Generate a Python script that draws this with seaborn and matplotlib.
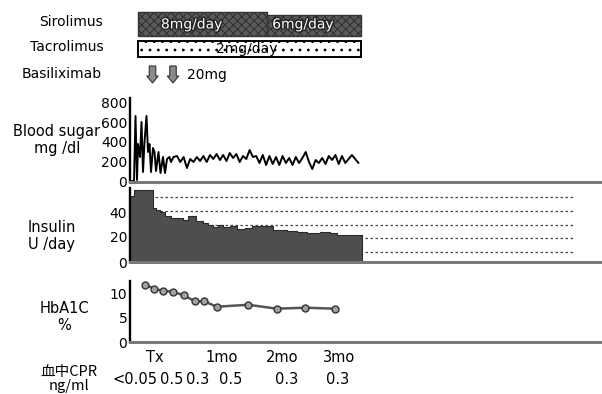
import numpy as np
import pandas as pd
import matplotlib
matplotlib.use("Agg")
import matplotlib.pyplot as plt
import seaborn as sns
from matplotlib import transforms, patches, patheffects

# ---------------- data ----------------
# x unit: days relative to transplant (Tx)
bs_early_day = [-9.2, -7.6, -7.0, -6.4, -6.0, -5.2, -4.6, -4.0, -3.4, -2.6, -2.0, -1.4, -0.8, 0.0,
                0.6, 1.2, 2.2, 3.0, 4.0, 4.8, 5.6, 6.6, 7.2, 8.2]
bs_early = [10, 10, 660, 20, 380, 250, 600, 100, 400, 660, 300, 380, 100, 340,
            300, 110, 300, 90, 250, 90, 230, 250, 200, 250]
bs_late_start, bs_late_end = 9.6, 82.2
bs_late = [260, 200, 250, 140, 230, 200, 250, 210, 260, 200, 270, 230, 280, 220, 270, 210,
           290, 240, 280, 200, 260, 230, 320, 250, 260, 190, 270, 170, 260, 180, 250, 170,
           260, 190, 240, 170, 250, 190, 240, 300, 200, 130, 220, 190, 240, 180, 260, 220,
           270, 180, 260, 190, 230, 270, 230, 190]

ins_start = [-9.2, -7.6, 0.0, 1.2, 2.8, 4.8, 7.2, 10.0, 12.0, 14.0, 17.2, 20.0, 22.0, 24.0,
             26.0, 28.0, 30.8, 33.6, 36.8, 39.6, 48.0, 53.6, 57.6, 61.6, 66.8, 70.8, 73.6]
ins_end = 83.6
ins_val = [53, 57.5, 43, 42, 40, 37, 35.5, 35, 34, 36.5, 33, 31, 29.5, 28, 30, 28, 29,
           26.5, 27.5, 29, 26, 24.5, 24, 23.5, 24, 23, 22]
ins_grid = [52, 41, 30, 19, 8]

a1c_day = [-3.2, 0.5, 3.9, 7.9, 12.4, 16.8, 20.5, 25.5, 38.1, 49.5, 60.8, 72.8]
a1c = [11.7, 10.9, 10.4, 10.3, 9.5, 8.3, 8.3, 7.2, 7.6, 6.8, 7.0, 6.8]

tick_pos = [0.8, 27.6, 51.6, 74.4]
tick_lab = ["Tx", "1mo", "2mo", "3mo"]

cpr_day = [-7.2, 7.6, 18.0, 31.2, 53.6, 74.0]
cpr_lab = ["<0.05", "0.5", "0.3", "0.5", "0.3", "0.3"]

siro_start = [-5.9, 45.5]
siro_end = [45.5, 83.1]
siro_lab = ["8mg/day", "6mg/day"]
tacro_start, tacro_end = -5.9, 83.1
tacro_lab = "2mg/day"
basi_day = [-0.2, 8.0]
basi_lab = "20mg"

# ---------------- figure ----------------
sns.set_style("white")
plt.rcParams["font.family"] = ["DejaVu Sans", "Noto Sans CJK JP"]
plt.rcParams["text.color"] = "black"
plt.rcParams["xtick.labelcolor"] = "black"
plt.rcParams["ytick.labelcolor"] = "black"
plt.rcParams["hatch.color"] = "#3a3a3a"
plt.rcParams["hatch.linewidth"] = 0.8

W, H = 602, 394
fig = plt.figure(figsize=(W / 100, H / 100), dpi=100)
XLIM = (-9.2, 178.8)


def fx(px):
    return px / W


def fy(py):
    return 1 - py / H


def add_ax(top, bottom):
    return fig.add_axes([fx(130), fy(bottom), fx(600) - fx(130), (bottom - top) / H])


def style(ax):
    for s in ["top", "right"]:
        ax.spines[s].set_visible(False)
    ax.spines["left"].set_color("black")
    ax.spines["left"].set_linewidth(1.7)
    ax.spines["bottom"].set_color("#7a7a7a")
    ax.spines["bottom"].set_linewidth(2.2)
    ax.tick_params(length=0, labelsize=10, pad=2)
    ax.set_xlim(XLIM)
    ax.set_xlabel("")
    ax.set_ylabel("")
    ax.set_facecolor("none")


# blood sugar
ax1 = add_ax(98, 182)
bs_day = list(bs_early_day) + list(np.linspace(bs_late_start, bs_late_end, len(bs_late)))
bs_val = list(bs_early) + list(bs_late)
sns.lineplot(x=bs_day, y=bs_val, color="black", lw=1.4, ax=ax1)
style(ax1)
ax1.set_ylim(0, 840)
ax1.set_yticks([0, 200, 400, 600, 800])
ax1.set_xticks([])

# insulin
ax2 = add_ax(188, 262)
ax2.hlines(ins_grid, XLIM[0], 168.8, colors="#444444", linestyles=(0, (2, 2)), lw=0.9, zorder=0)
sns.histplot(x=ins_start, weights=ins_val, bins=list(ins_start) + [ins_end], element="step",
             fill=True, color="#4e4e4e", alpha=1, linewidth=0.8, edgecolor="#2a2a2a", ax=ax2, zorder=2)
style(ax2)
ax2.set_ylim(0, 59.2)
ax2.set_yticks([0, 20, 40])
ax2.set_xticks([])

# HbA1c
ax3 = add_ax(281, 342)
sns.lineplot(x=a1c_day, y=a1c, color="#555555", lw=1.8, marker="o", markersize=5,
             markerfacecolor="#a0a0a0", markeredgecolor="#333333", markeredgewidth=1, ax=ax3)
style(ax3)
ax3.set_ylim(0, 12.45)
ax3.set_yticks([0, 5, 10])
ax3.set_xticks(tick_pos, tick_lab)
ax3.tick_params(axis="x", pad=6, labelsize=10.5)

blend = transforms.blended_transform_factory(ax3.transData, fig.transFigure)
for d, t in zip(cpr_day, cpr_lab):
    ax3.text(d, fy(380), t, transform=blend, ha="center", va="center", fontsize=10.5, clip_on=False)

# regimen
axr = fig.add_axes([fx(130), fy(90), fx(600) - fx(130), 90 / H])
axr.set_xlim(XLIM)
axr.set_ylim(90, 0)
axr.axis("off")
tops = [12, 15]
for s, e, t in zip(siro_start, siro_end, tops):
    axr.add_patch(patches.Rectangle((s, t), e - s, 36 - t, facecolor="#5a5a5a",
                                    edgecolor="#333333", lw=1, hatch="xxxx"))
stroke = [patheffects.withStroke(linewidth=2, foreground="#222222")]
for x, t in zip([15.5, 60.0], siro_lab):
    axr.text(x, 24.5, t, color="white", fontsize=10, ha="center", va="center", path_effects=stroke)
axr.add_patch(patches.Rectangle((tacro_start, 41), tacro_end - tacro_start, 16, facecolor="white",
                                edgecolor="black", lw=1.4, hatch=".."))
axr.text(37.5, 49.5, tacro_lab, fontsize=10, ha="center", va="center", color="black")
for d in basi_day:
    axr.add_patch(patches.FancyArrow(d, 66, 0, 17, width=2.6, head_width=4.6, head_length=7,
                                     length_includes_head=True, fc="#8a8a8a", ec="#333333", lw=0.8))
axr.text(13.8, 75, basi_lab, fontsize=10, ha="left", va="center")

# left labels
fig.text(fx(103), fy(22), "Sirolimus", ha="right", va="center", fontsize=10)
fig.text(fx(104), fy(47), "Tacrolimus", ha="right", va="center", fontsize=10)
fig.text(fx(102), fy(74), "Basiliximab", ha="right", va="center", fontsize=10)
fig.text(fx(57), fy(140), "Blood sugar\nmg /dl", ha="center", va="center", fontsize=10.5,
         multialignment="center", linespacing=1.1)
fig.text(fx(52), fy(236), "Insulin\nU /day", ha="center", va="center", fontsize=10.5,
         multialignment="center", linespacing=1.1)
fig.text(fx(64), fy(317), "HbA1C\n%", ha="center", va="center", fontsize=10.5,
         multialignment="center", linespacing=1.1)
fig.text(fx(69), fy(379), "血中CPR\nng/ml", ha="center", va="center", fontsize=10.5,
         multialignment="center", linespacing=1.05,
         family=["Noto Sans CJK JP", "DejaVu Sans"])

fig.savefig("out.png", dpi=100, facecolor="white")
